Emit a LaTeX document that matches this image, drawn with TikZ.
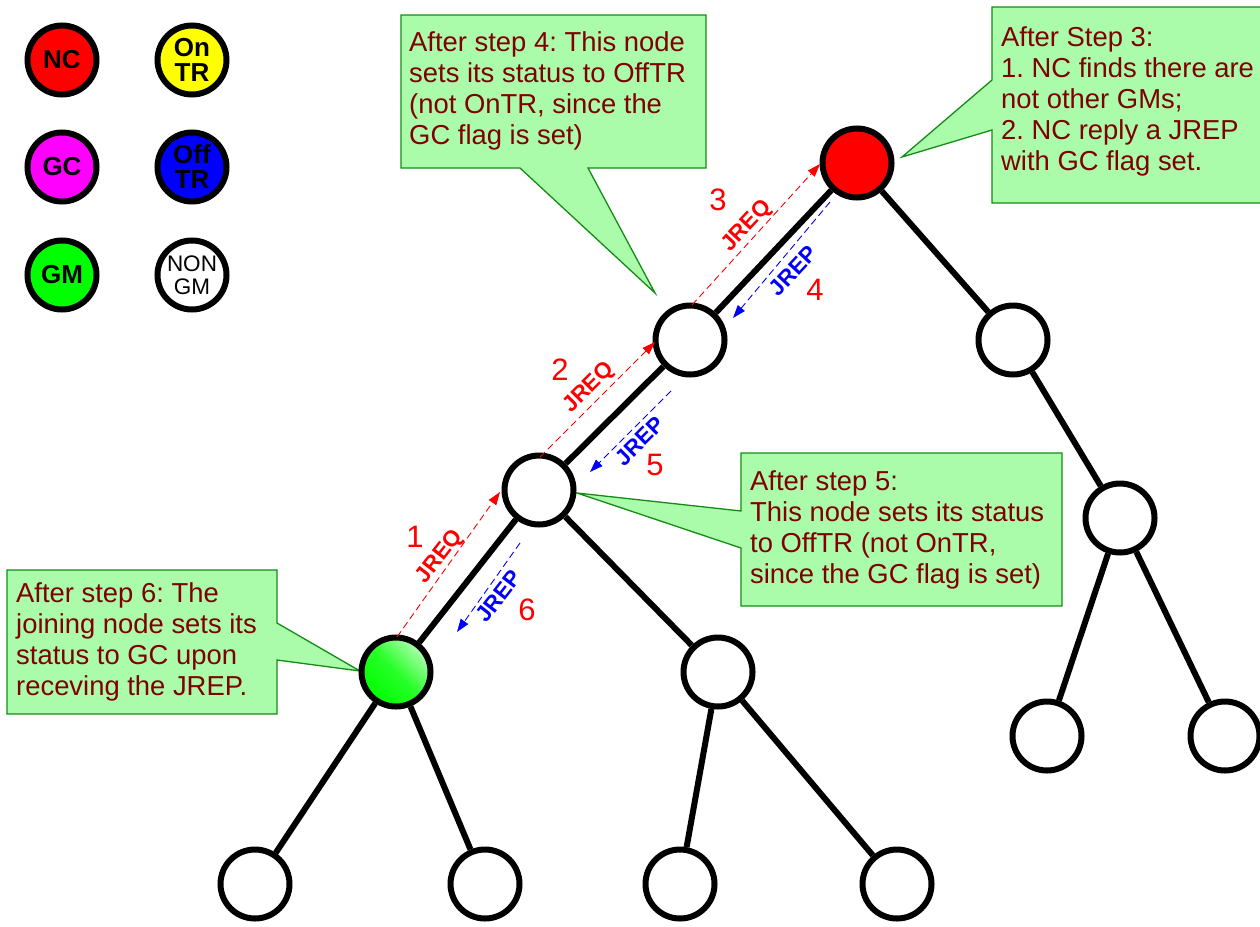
\documentclass[tikz,border=0pt]{standalone}
\usepackage{fontspec}
\setmainfont{Liberation Sans}
\usetikzlibrary{arrows.meta}
\definecolor{calfill}{RGB}{170,252,170}
\definecolor{caldraw}{RGB}{20,140,20}
\definecolor{caltext}{RGB}{128,0,0}
\definecolor{reqred}{RGB}{255,0,0}
\definecolor{repblue}{RGB}{0,0,255}
\definecolor{gcmag}{RGB}{255,0,255}
\definecolor{gmgreen}{RGB}{0,255,0}
\definecolor{ontr}{RGB}{255,255,0}
\frenchspacing
\begin{document}
\begin{tikzpicture}[x=1pt,y=-1pt,
  tn/.style={circle, draw=black, line width=6pt, minimum size=69pt, inner sep=0pt, fill=white},
  legbold/.style={tn, align=center, font=\bfseries\fontsize{26}{25}\selectfont},
  legplain/.style={tn, align=center, font=\fontsize{22.5}{23}\selectfont},
  treeedge/.style={line width=6pt},
  callout/.style={fill=calfill, draw=caldraw, line width=1.3pt, line join=miter},
  caltxt/.style={anchor=north west, inner sep=0pt, text=caltext, align=left, font=\fontsize{27.4}{31.2}\selectfont},
  req/.style={reqred, line width=0.9pt, dash pattern=on 7pt off 4pt, -{Triangle[length=13pt,width=9pt]}},
  rep/.style={repblue, line width=0.9pt, dash pattern=on 7pt off 4pt, -{Triangle[length=13pt,width=9pt]}},
  msglbl/.style={font=\bfseries\fontsize{22.5}{24}\selectfont, inner sep=0pt},
  steplbl/.style={text=reqred, font=\fontsize{31}{32}\selectfont, inner sep=0pt},
]
\useasboundingbox (0,0) rectangle (1260,926);

% legend
\node[legbold, fill=reqred] (lnc) at (62,60) {NC};
\node[legbold, fill=ontr] (lon) at (192,60) {On\\TR};
\node[legbold, fill=gcmag] (lgc) at (62,167) {GC};
\node[legbold, fill=repblue] (loff) at (192,167) {Off\\TR};
\node[legbold, fill=gmgreen] (lgm) at (62,275) {GM};
\node[legplain] (lnon) at (192,275) {NON\\GM};

% callouts (shapes)
\draw[callout] (401,15) -- (706,15) -- (706,168) -- (588,168) -- (655,293) -- (520,168) -- (401,168) -- cycle;
\draw[callout] (992,7) -- (1264,7) -- (1264,203) -- (992,203) -- (992,130) -- (902,157) -- (992,80) -- cycle;
\draw[callout] (741,453) -- (1062,453) -- (1062,606) -- (741,606) -- (741,548) -- (577,493) -- (741,511) -- cycle;
\draw[callout] (7,570) -- (277,570) -- (277,623) -- (360,671) -- (277,660) -- (277,714) -- (7,714) -- cycle;

\node[caltxt] (t4) at (409,31) {After step 4: This node\\sets its status to OffTR\\(not OnTR, since the\\GC flag is set)};
\node[caltxt] (t3) at (1001,26) {After Step 3:\\1. NC finds there are\\not other GMs;\\2. NC reply a JREP\\with GC flag set.};
\node[caltxt] (t5) at (750,470) {After step 5:\\This node sets its status\\to OffTR (not OnTR,\\since the GC flag is set)};
\node[caltxt] (t6) at (16,582) {After step 6: The\\joining node sets its\\status to GC upon\\receving the JREP.};

% tree nodes
\node[tn, fill=reqred] (root) at (857,163) {};
\node[tn] (na) at (690,340) {};
\node[tn] (nb) at (1013,340) {};
\node[tn] (nc) at (539,490) {};
\node[tn] (nd) at (1120,518) {};
\node[tn, shade, top color=gmgreen!30!white, bottom color=gmgreen, middle color=gmgreen!85!white, shading angle=-45] (gm) at (396,672) {};
\node[tn] (ne) at (718,672) {};
\node[tn] (l1) at (255,884) {};
\node[tn] (l2) at (485,884) {};
\node[tn] (l3) at (680,884) {};
\node[tn] (l4) at (897,884) {};
\node[tn] (l5) at (1047,736) {};
\node[tn] (l6) at (1225,736) {};

\draw[treeedge] (root) -- (na);
\draw[treeedge] (root) -- (nb);
\draw[treeedge] (na) -- (nc);
\draw[treeedge] (nc) -- (gm);
\draw[treeedge] (nc) -- (ne);
\draw[treeedge] (gm) -- (l1);
\draw[treeedge] (gm) -- (l2);
\draw[treeedge] (ne) -- (l3);
\draw[treeedge] (ne) -- (l4);
\draw[treeedge] (nb) -- (nd);
\draw[treeedge] (nd) -- (l5);
\draw[treeedge] (nd) -- (l6);

% message arrows
\coordinate (q1s) at (397,637); \coordinate (q1e) at (500,492);
\coordinate (p6s) at (520,543); \coordinate (p6e) at (457,632);
\coordinate (q2s) at (540,457); \coordinate (q2e) at (655,342);
\coordinate (p5s) at (671,391); \coordinate (p5e) at (590,472);
\coordinate (q3s) at (692,305); \coordinate (q3e) at (820,164);
\coordinate (p4s) at (830,202); \coordinate (p4e) at (733,318);
\draw[req] (q1s) -- (q1e);
\draw[rep] (p6s) -- (p6e);
\draw[req] (q2s) -- (q2e);
\draw[rep] (p5s) -- (p5e);
\draw[req] (q3s) -- (q3e);
\draw[rep] (p4s) -- (p4e);

\node[msglbl, text=reqred, rotate=52] (m1) at (440,557) {JREQ};
\node[msglbl, text=repblue, rotate=52] (m6) at (499,596) {JREP};
\node[msglbl, text=reqred, rotate=45] (m2) at (589,388) {JREQ};
\node[msglbl, text=repblue, rotate=45] (m5) at (640,441) {JREP};
\node[msglbl, text=reqred, rotate=47] (m3) at (747,226) {JREQ};
\node[msglbl, text=repblue, rotate=47] (m4) at (793,271) {JREP};

\node[steplbl] (s1) at (415,537) {1};
\node[steplbl] (s2) at (560,370) {2};
\node[steplbl] (s3) at (718,200) {3};
\node[steplbl] (s4) at (815,290) {4};
\node[steplbl] (s5) at (655,465) {5};
\node[steplbl] (s6) at (527,610) {6};
\end{tikzpicture}
\end{document}
